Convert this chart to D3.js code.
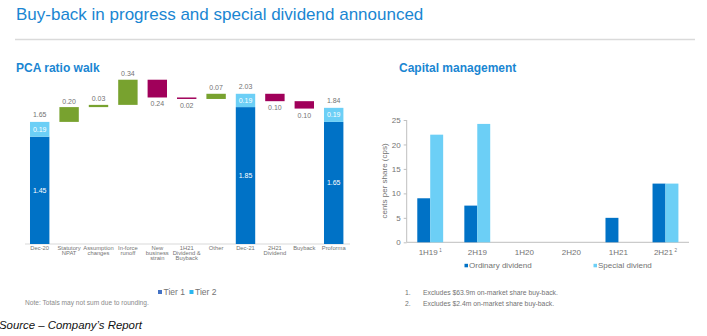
<!DOCTYPE html>
<html><head><meta charset="utf-8">
<script src="https://cdn.jsdelivr.net/npm/d3@7/dist/d3.min.js"></script>
<style>
html,body{margin:0;padding:0;background:#fff;overflow:hidden}
text{font-family:"Liberation Sans",Arial,sans-serif}
</style></head>
<body><svg id="c" width="707" height="336"></svg>
<script>
// ---------- data ----------
const wfCategories = ["Dec-20","Statutory\nNPAT","Assumption\nchanges","In-force\nrunoff","New\nbusiness\nstrain","1H21\nDividend &\nBuyback","Other","Dec-21","2H21\nDividend","Buyback","Proforma"];
const wfTypes   = ["total","up","up","up","down","down","up","total","down","down","total"];
const wfDeltas  = [0, 0.20, 0.03, 0.34, -0.24, -0.02, 0.07, 0, -0.10, -0.10, 0];
const wfTotals  = [1.65, null, null, null, null, null, null, 2.03, null, null, 1.84];
const wfTier1   = [1.45, null, null, null, null, null, null, 1.85, null, null, 1.65];
const wfTier2   = [0.19, null, null, null, null, null, null, 0.19, null, null, 0.19];
const wfLegend  = ["Tier 1","Tier 2"];

const cmCategories = ["1H19","2H19","1H20","2H20","1H21","2H21"];
const cmSuperscripts = ["1","","","","","2"];
const cmOrdinary = [9, 7.5, 0, 0, 5, 12];
const cmSpecial  = [22, 24.2, 0, 0, 0, 12];
const cmSeries   = ["Ordinary dividend","Special diviend"];
const cmTicks    = [0,5,10,15,20,25];
const footnotes  = ["Excludes $63.9m on-market share buy-back.","Excludes $2.4m on-market share buy-back."];

// ---------- styles ----------
const C = {dark:"#0072c6", light:"#6ccff6", green:"#78a22f", mag:"#a0005a", txt:"#737373", title:"#1a86d2", axis:"#bfbfbf"};
const svg = d3.select("#c");

// header
svg.append("text").attr("x",16).attr("y",19.5).attr("font-size",17).attr("fill",C.title)
  .text("Buy-back in progress and special dividend announced");
svg.append("line").attr("x1",15).attr("x2",695).attr("y1",39.5).attr("y2",39.5)
  .attr("stroke","#dadada").attr("stroke-width",1.5);
svg.append("text").attr("x",16).attr("y",71.5).attr("font-size",12).attr("font-weight","bold")
  .attr("fill",C.title).text("PCA ratio walk");
svg.append("text").attr("x",399).attr("y",71.5).attr("font-size",12).attr("font-weight","bold")
  .attr("fill",C.title).text("Capital management");

// ---------- waterfall ----------
const wx = d3.scaleBand().domain(wfCategories).range([25,348.4]).paddingInner(0.34).paddingOuter(0.17);
const wy = d3.scaleLinear().domain([0,2.5]).range([244,244-185]);
const wg = svg.append("g");

let run = 0;
const wfData = wfCategories.map((c,i)=>{
  if (wfTypes[i]==="total"){ run = wfTotals[i]; return {c,i,type:"total",t1:wfTier1[i],t2:wfTier2[i],total:wfTotals[i]}; }
  const start = run; run = run + wfDeltas[i];
  return {c,i,type:wfTypes[i],lo:Math.min(start,run),hi:Math.max(start,run),d:wfDeltas[i]};
});

wg.append("line").attr("x1",25).attr("x2",350).attr("y1",wy(0)).attr("y2",wy(0))
  .attr("stroke","#d9d9d9").attr("stroke-width",1);

wfData.forEach(d=>{
  const x = wx(d.c), w = wx.bandwidth(), cx = x + w/2;
  if (d.type==="total"){
    wg.append("rect").attr("x",x).attr("width",w).attr("y",wy(d.t1)).attr("height",wy(0)-wy(d.t1)).attr("fill",C.dark);
    wg.append("rect").attr("x",x).attr("width",w).attr("y",wy(d.total)).attr("height",wy(d.t1)-wy(d.total)).attr("fill",C.light);
    wg.append("text").attr("x",cx).attr("y",wy(d.total)-4.5).attr("text-anchor","middle").attr("font-size",7).attr("fill",C.txt).text(d.total.toFixed(2));
    wg.append("text").attr("x",cx).attr("y",(wy(d.total)+wy(d.t1))/2+2.5).attr("text-anchor","middle").attr("font-size",7).attr("fill","#fff").text(d.t2.toFixed(2));
    wg.append("text").attr("x",cx).attr("y",(wy(d.t1)+wy(0))/2+2.5).attr("text-anchor","middle").attr("font-size",7).attr("fill","#fff").text(d.t1.toFixed(2));
  } else {
    const col = d.type==="up"?C.green:C.mag;
    wg.append("rect").attr("x",x).attr("width",w).attr("y",wy(d.hi)).attr("height",Math.max(1.3,wy(d.lo)-wy(d.hi))).attr("fill",col);
    const ly = d.type==="up" ? wy(d.hi)-3.5 : Math.max(wy(d.lo), wy(d.hi)+1.3)+9;
    wg.append("text").attr("x",cx).attr("y",ly).attr("text-anchor","middle").attr("font-size",7).attr("fill",C.txt).text(Math.abs(d.d).toFixed(2));
  }
  const lines = d.c.split("\n");
  const t = wg.append("text").attr("text-anchor","middle").attr("font-size",5.8).attr("fill",C.txt);
  lines.forEach((l,k)=>t.append("tspan").attr("x",cx).attr("y",250.3+k*4.8).text(l));
});

// tier legend
const tl = svg.append("g");
[["#4472c4",160,wfLegend[0]],["#29b6f0",191.5,wfLegend[1]]].forEach(([col,x,label])=>{
  tl.append("rect").attr("x",x-2).attr("y",290).attr("width",4).attr("height",4).attr("fill",col);
  tl.append("text").attr("x",x+3.5).attr("y",294.8).attr("font-size",8.5).attr("fill",C.txt).text(label);
});
svg.append("text").attr("x",25).attr("y",305).attr("font-size",6.6).attr("fill","#8a8a8a")
  .text("Note: Totals may not sum due to rounding.");
svg.append("text").attr("x",-1).attr("y",328.5).attr("font-size",11.4).attr("font-style","italic")
  .attr("font-family","Lato, 'Open Sans', sans-serif").attr("fill","#111").text("Source – Company’s Report");

// ---------- capital management ----------
const cx0 = d3.scaleBand().domain(cmCategories).range([406.7,689]).paddingInner(0.45).paddingOuter(0.225);
const cx1 = d3.scaleBand().domain(cmSeries).range([0,cx0.bandwidth()]);
const cy = d3.scaleLinear().domain([0,25]).range([242.3,120]);
const cg = svg.append("g");

cg.append("g").attr("transform","translate(406.7,0)")
  .call(d3.axisLeft(cy).tickValues(cmTicks).tickSize(3).tickPadding(3))
  .call(g=>{g.select(".domain").attr("stroke",C.axis).attr("d","M0,242.3V120");
    g.selectAll(".tick line").attr("stroke",C.axis);
    g.selectAll(".tick text").attr("font-size",8).attr("fill",C.txt).attr("font-family","'Liberation Sans',Arial,sans-serif");});

cg.append("line").attr("x1",406.7).attr("x2",689).attr("y1",cy(0)).attr("y2",cy(0)).attr("stroke",C.axis);

cmCategories.forEach((c,i)=>{
  [[cmOrdinary[i],cmSeries[0],C.dark],[cmSpecial[i],cmSeries[1],C.light]].forEach(([v,s,col])=>{
    if (v>0) cg.append("rect").attr("x",cx0(c)+cx1(s)).attr("width",cx1.bandwidth()).attr("y",cy(v)).attr("height",cy(0)-cy(v)).attr("fill",col);
  });
  const t = cg.append("text").attr("x",cx0(c)+cx0.bandwidth()/2).attr("y",255.3).attr("text-anchor","middle").attr("font-size",8).attr("fill",C.txt).text(c);
  if (cmSuperscripts[i]) t.append("tspan").attr("dx",1.5).attr("dy",-3).attr("font-size",4.5).text(cmSuperscripts[i]);
});

svg.append("text").attr("transform","translate(387,181) rotate(-90)").attr("text-anchor","middle")
  .attr("font-size",8).attr("fill",C.txt).text("cents per share (cps)");

// legend
[[C.dark,466,cmSeries[0]],[C.light,595,cmSeries[1]]].forEach(([col,x,label])=>{
  svg.append("rect").attr("x",x-1.5).attr("y",263.8).attr("width",3.5).attr("height",3.5).attr("fill",col);
  svg.append("text").attr("x",x+3).attr("y",268.4).attr("font-size",8).attr("fill",C.txt).text(label);
});

// footnotes
footnotes.forEach((f,i)=>{
  svg.append("text").attr("x",405).attr("y",294.5+i*11).attr("font-size",6.8).attr("fill",C.txt).text((i+1)+".");
  svg.append("text").attr("x",423).attr("y",294.5+i*11).attr("font-size",6.8).attr("fill",C.txt).text(f);
});
</script></body></html>
